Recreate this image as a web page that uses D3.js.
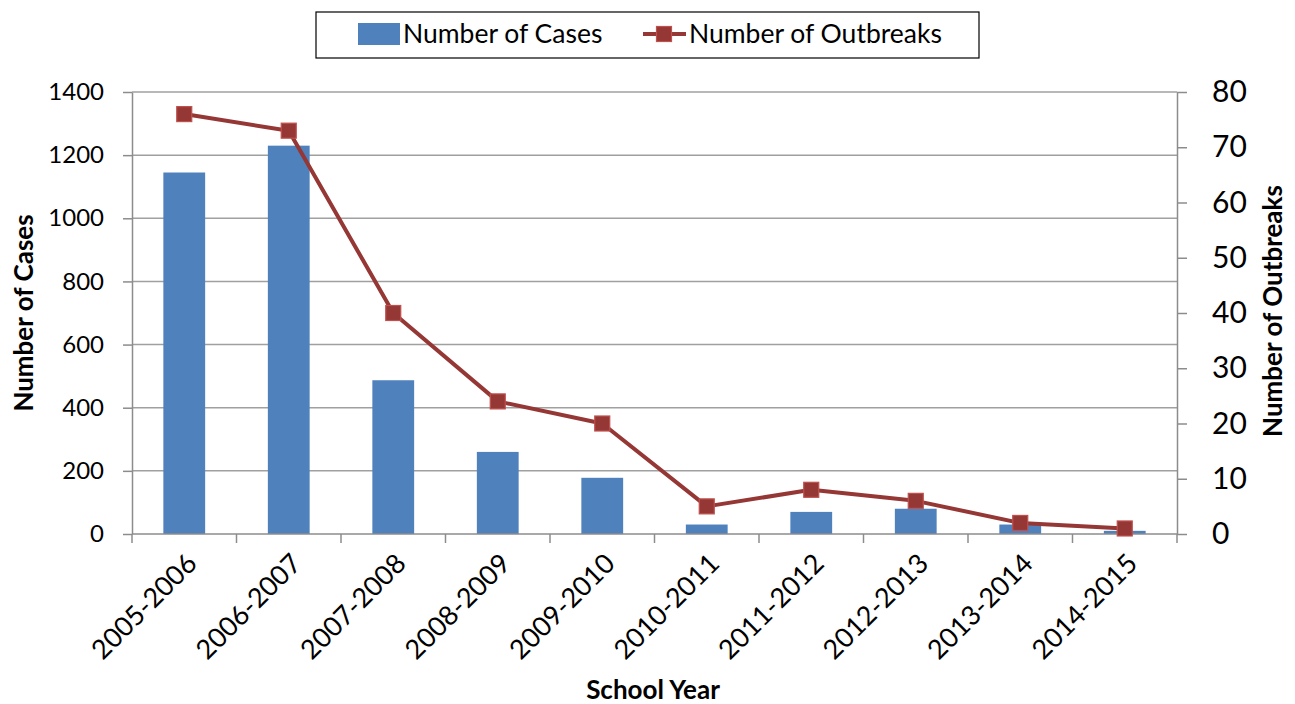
<!DOCTYPE html>
<html>
<head>
<meta charset="utf-8">
<script src="https://cdn.jsdelivr.net/npm/d3@7"></script>
<style>
  html, body { margin: 0; padding: 0; background: #fff; }
  svg { display: block; font-family: Lato, "Open Sans", sans-serif; }
</style>
</head>
<body>
<svg id="chart" width="1295" height="704"></svg>
<script>
// School years on the category axis
const schoolYears = ["2005-2006", "2006-2007", "2007-2008", "2008-2009", "2009-2010",
                     "2010-2011", "2011-2012", "2012-2013", "2013-2014", "2014-2015"];
// Number of cases (bars, left axis)
const cases = [1145, 1230, 487, 260, 178, 30, 70, 80, 30, 10];
// Number of outbreaks (line, right axis)
const outbreaks = [76, 73, 40, 24, 20, 5, 8, 6, 2, 1];
// Axis tick values
const caseTicks = [0, 200, 400, 600, 800, 1000, 1200, 1400];
const outbreakTicks = [0, 10, 20, 30, 40, 50, 60, 70, 80];

const svg = d3.select("#chart");
const plot = { left: 132, right: 1177, top: 92, bottom: 534 };

const barColor = "#4F81BD";
const lineColor = "#953735";
const markerEdge = "#C0504D";
const gridColor = "#A0A0A0";
const axisColor = "#8C8C8C";

const x = d3.scaleBand()
  .domain(schoolYears)
  .range([plot.left, plot.right])
  .paddingInner(0.6)
  .paddingOuter(0.3);

const yCases = d3.scaleLinear().domain([0, 1400]).range([plot.bottom, plot.top]);
const yOut = d3.scaleLinear().domain([0, 80]).range([plot.bottom, plot.top]);

// Horizontal gridlines
svg.append("g")
  .selectAll("line")
  .data(caseTicks.filter(t => t > 0))
  .join("line")
  .attr("x1", plot.left).attr("x2", plot.right)
  .attr("y1", d => yCases(d)).attr("y2", d => yCases(d))
  .attr("stroke", gridColor).attr("stroke-width", 1.5);

// Left axis
const leftAxis = svg.append("g")
  .attr("transform", `translate(${plot.left},0)`)
  .call(d3.axisLeft(yCases).tickValues(caseTicks).tickFormat(d3.format("d"))
    .tickSize(9).tickPadding(19).tickSizeOuter(0));
leftAxis.selectAll("path, line").attr("stroke", axisColor).attr("stroke-width", 1.5);
leftAxis.selectAll("text").attr("font-size", 24).attr("fill", "#000")
  .attr("font-family", "Lato, sans-serif");

// Right axis
const rightAxis = svg.append("g")
  .attr("transform", `translate(${plot.right},0)`)
  .call(d3.axisRight(yOut).tickValues(outbreakTicks).tickSize(10).tickPadding(25).tickSizeOuter(0));
rightAxis.selectAll("path, line").attr("stroke", axisColor).attr("stroke-width", 1.5);
rightAxis.selectAll("text").attr("font-size", 30).attr("fill", "#000")
  .attr("font-family", "Lato, sans-serif");

// Bars
svg.append("g")
  .selectAll("rect")
  .data(schoolYears.map((y, i) => ({ year: y, value: cases[i] })))
  .join("rect")
  .attr("x", d => x(d.year))
  .attr("width", x.bandwidth())
  .attr("y", d => yCases(d.value))
  .attr("height", d => yCases(0) - yCases(d.value))
  .attr("fill", barColor);

// Category axis baseline and boundary ticks
const step = x.step();
const xAxis = svg.append("g");
xAxis.append("line")
  .attr("x1", plot.left).attr("x2", plot.right)
  .attr("y1", plot.bottom).attr("y2", plot.bottom)
  .attr("stroke", axisColor).attr("stroke-width", 1.5);
xAxis.selectAll("line.tick")
  .data(d3.range(schoolYears.length + 1))
  .join("line")
  .attr("class", "tick")
  .attr("x1", i => plot.left + i * step).attr("x2", i => plot.left + i * step)
  .attr("y1", plot.bottom).attr("y2", plot.bottom + 9)
  .attr("stroke", axisColor).attr("stroke-width", 1.5);
xAxis.selectAll("text")
  .data(schoolYears)
  .join("text")
  .attr("transform", d => `translate(${x(d) + x.bandwidth() / 2 - 1},${plot.bottom + 16}) rotate(-45)`)
  .attr("text-anchor", "end")
  .attr("dominant-baseline", "hanging")
  .attr("font-size", 27)
  .attr("fill", "#000")
  .text(d => d);

// Outbreak line with square markers
const pts = schoolYears.map((y, i) => ({ x: x(y) + x.bandwidth() / 2, y: yOut(outbreaks[i]) }));
svg.append("path")
  .datum(pts)
  .attr("d", d3.line().x(d => d.x).y(d => d.y))
  .attr("fill", "none")
  .attr("stroke", lineColor)
  .attr("stroke-width", 4)
  .attr("stroke-linejoin", "round");
const m = 15;
svg.append("g")
  .selectAll("rect")
  .data(pts)
  .join("rect")
  .attr("x", d => d.x - m / 2).attr("y", d => d.y - m / 2)
  .attr("width", m).attr("height", m)
  .attr("fill", lineColor)
  .attr("stroke", markerEdge).attr("stroke-width", 1.2);

// Axis titles
svg.append("text")
  .attr("transform", `translate(33,${(plot.top + plot.bottom) / 2}) rotate(-90)`)
  .attr("text-anchor", "middle")
  .attr("font-size", 26).attr("font-weight", "bold")
  .text("Number of Cases");
svg.append("text")
  .attr("transform", `translate(1282,${(plot.top + plot.bottom) / 2 - 2}) rotate(-90)`)
  .attr("text-anchor", "middle")
  .attr("font-size", 26).attr("font-weight", "bold")
  .text("Number of Outbreaks");
svg.append("text")
  .attr("x", 653).attr("y", 699)
  .attr("text-anchor", "middle")
  .attr("font-size", 26).attr("font-weight", "bold")
  .text("School Year");

// Legend
const legend = svg.append("g");
legend.append("rect")
  .attr("x", 316).attr("y", 12).attr("width", 663).attr("height", 46)
  .attr("fill", "#fff").attr("stroke", "#000").attr("stroke-width", 1.2);
legend.append("rect")
  .attr("x", 358).attr("y", 23).attr("width", 42).attr("height", 22)
  .attr("fill", barColor);
legend.append("text")
  .attr("x", 403).attr("y", 43)
  .attr("font-size", 26.5).attr("fill", "#000")
  .text("Number of Cases");
legend.append("line")
  .attr("x1", 643).attr("x2", 686).attr("y1", 34).attr("y2", 34)
  .attr("stroke", lineColor).attr("stroke-width", 4);
legend.append("rect")
  .attr("x", 664 - m / 2).attr("y", 34 - m / 2).attr("width", m).attr("height", m)
  .attr("fill", lineColor).attr("stroke", markerEdge).attr("stroke-width", 1.2);
legend.append("text")
  .attr("x", 689).attr("y", 43)
  .attr("font-size", 26.5).attr("fill", "#000")
  .text("Number of Outbreaks");
</script>
</body>
</html>
